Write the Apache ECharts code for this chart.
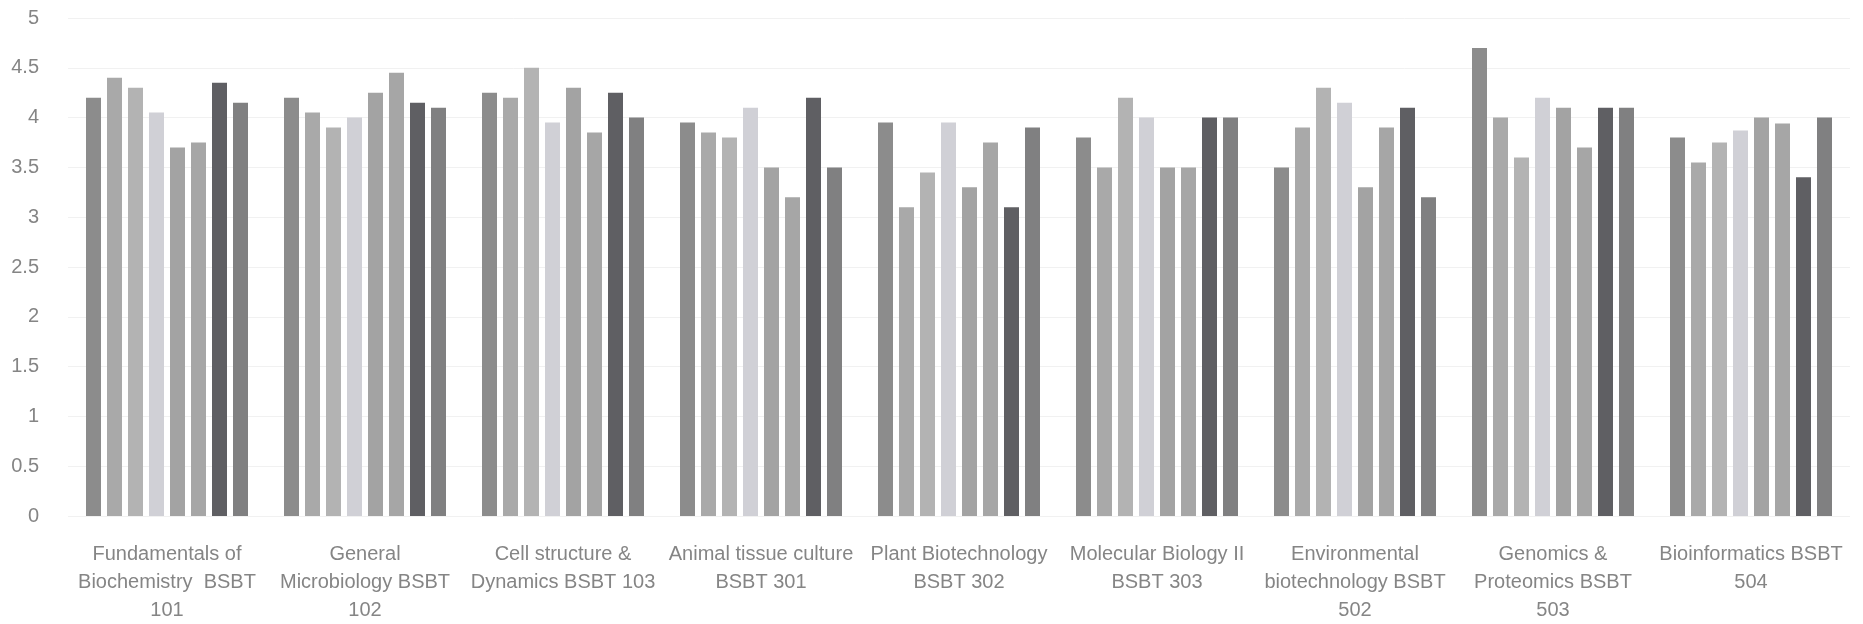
<!DOCTYPE html>
<html>
<head>
<meta charset="utf-8">
<script src="https://cdn.jsdelivr.net/npm/echarts@6/dist/echarts.min.js"></script>
<style>
html,body{margin:0;padding:0;background:#fff;}
#chart{width:1863px;height:624px;}
</style>
</head>
<body>
<div id="chart"></div>
<script>
const categories = [
  "Fundamentals of\nBiochemistry  BSBT\n101",
  "General\nMicrobiology BSBT\n102",
  "Cell structure &\nDynamics BSBT 103",
  "Animal tissue culture\nBSBT 301",
  "Plant Biotechnology\nBSBT 302",
  "Molecular Biology II\nBSBT 303",
  "Environmental\nbiotechnology BSBT\n502",
  "Genomics &\nProteomics BSBT\n503",
  "Bioinformatics BSBT\n504"
];
const s1 = [4.2, 4.2, 4.25, 3.95, 3.95, 3.8, 3.5, 4.7, 3.8];
const s2 = [4.4, 4.05, 4.2, 3.85, 3.1, 3.5, 3.9, 4.0, 3.55];
const s3 = [4.3, 3.9, 4.5, 3.8, 3.45, 4.2, 4.3, 3.6, 3.75];
const s4 = [4.05, 4.0, 3.95, 4.1, 3.95, 4.0, 4.15, 4.2, 3.87];
const s5 = [3.7, 4.25, 4.3, 3.5, 3.3, 3.5, 3.3, 4.1, 4.0];
const s6 = [3.75, 4.45, 3.85, 3.2, 3.75, 3.5, 3.9, 3.7, 3.94];
const s7 = [4.35, 4.15, 4.25, 4.2, 3.1, 4.0, 4.1, 4.1, 3.4];
const s8 = [4.15, 4.1, 4.0, 3.5, 3.9, 4.0, 3.2, 4.1, 4.0];
const seriesValues = [s1, s2, s3, s4, s5, s6, s7, s8];
const seriesColors = ["#8c8c8c", "#a9a9a9", "#b3b3b3", "#d0d0d6", "#a3a3a3", "#a6a6a6", "#5f5f63", "#808081"];
const yTicks = { min: 0, max: 5, interval: 0.5 };

const chart = echarts.init(document.getElementById('chart'), null, {renderer: 'canvas'});
const font = "'Liberation Sans', Arial, sans-serif";
chart.setOption({
  animation: false,
  backgroundColor: '#ffffff',
  grid: { left: 68, right: 13, top: 18, bottom: 99 },
  xAxis: {
    type: 'category',
    data: categories,
    axisLine: { show: false },
    axisTick: { show: false },
    axisLabel: {
      interval: 0,
      margin: 24,
      color: '#858585',
      fontFamily: font,
      fontSize: 20,
      lineHeight: 28
    }
  },
  yAxis: {
    type: 'value',
    min: yTicks.min,
    max: yTicks.max,
    interval: yTicks.interval,
    axisLine: { show: false },
    axisTick: { show: false },
    splitLine: { show: true, lineStyle: { color: '#f1f1f1', width: 1 } },
    axisLabel: {
      margin: 29,
      color: '#858585',
      fontFamily: font,
      fontSize: 20
    }
  },
  series: seriesValues.map((vals, i) => ({
    type: 'bar',
    data: vals,
    barWidth: 15,
    barGap: '40%',
    itemStyle: { color: seriesColors[i] }
  }))
});
</script>
</body>
</html>
